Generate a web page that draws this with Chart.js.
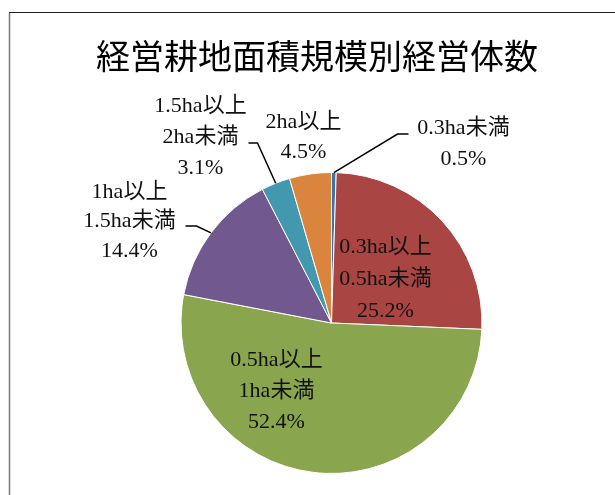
<!DOCTYPE html>
<html>
<head>
<meta charset="utf-8">
<script src="https://cdn.jsdelivr.net/npm/chart.js@4/dist/chart.umd.min.js"></script>
<style>
  body { margin: 0; background: #fff; }
  canvas { display: block; }
</style>
</head>
<body>
<canvas id="myChart" width="615" height="495"></canvas>
<script>
// data
var title = "経営耕地面積規模別経営体数";
var categories = [
  ["0.3ha未満"],
  ["0.3ha以上", "0.5ha未満"],
  ["0.5ha以上", "1ha未満"],
  ["1ha以上", "1.5ha未満"],
  ["1.5ha以上", "2ha未満"],
  ["2ha以上"],
];
var shares = [0.5, 25.2, 52.4, 14.4, 3.1, 4.5];
var colors = ["#3f72ad", "#a94543", "#89a54e", "#71588f", "#4198af", "#db843d"];

// label placement, offsets from the pie centre (text centre of first line)
var labelPos = [
  { x: 132, y: -195, gap: 31, elbow: [66, -189], end: [77, -189] },
  { x: 54, y: -76, gap: 32 },
  { x: -55, y: 37, gap: 31 },
  { x: -202, y: -131, gap: 29.5, elbow: [-135, -97], end: [-146, -97] },
  { x: -131, y: -217, gap: 31, elbow: [-74, -180], end: [-83, -180] },
  { x: -28, y: -201, gap: 30 },
];

var labelFont = '22px "Liberation Serif", "Noto Sans CJK JP", serif';

var pieLabels = {
  id: "pieLabels",
  beforeDraw: function (chart) {
    var c = chart.ctx;
    c.save();
    c.fillStyle = "#fff";
    c.fillRect(0, 0, chart.width, chart.height);
    // outer frame
    c.strokeStyle = "#777";
    c.lineWidth = 1.5;
    c.beginPath();
    c.moveTo(9.5, chart.height);
    c.lineTo(9.5, 12.5);
    c.stroke();
    c.strokeStyle = "#222";
    c.lineWidth = 1;
    c.beginPath();
    c.moveTo(9, 12.5);
    c.lineTo(chart.width, 12.5);
    c.stroke();
    // title
    c.fillStyle = "#000";
    c.font = '34px "Noto Sans CJK JP", sans-serif';
    c.textAlign = "center";
    c.textBaseline = "middle";
    c.fillText(title, 317, 56);
    c.restore();
  },
  afterDraw: function (chart) {
    var c = chart.ctx;
    var arcs = chart.getDatasetMeta(0).data;
    c.save();
    c.font = labelFont;
    c.textAlign = "center";
    c.textBaseline = "middle";
    c.fillStyle = "#111";
    c.strokeStyle = "#000";
    c.lineWidth = 1.5;
    arcs.forEach(function (arc, i) {
      var p = labelPos[i];
      var cx = arc.x, cy = arc.y;
      if (p.elbow) {
        var mid = (arc.startAngle + arc.endAngle) / 2;
        var sx = cx + Math.cos(mid) * arc.outerRadius;
        var sy = cy + Math.sin(mid) * arc.outerRadius;
        c.beginPath();
        c.moveTo(sx, sy);
        c.lineTo(cx + p.elbow[0], cy + p.elbow[1]);
        c.lineTo(cx + p.end[0], cy + p.end[1]);
        c.stroke();
      }
      var lines = categories[i].concat([shares[i].toFixed(1) + "%"]);
      lines.forEach(function (t, k) {
        c.fillText(t, cx + p.x, cy + p.y + k * p.gap);
      });
    });
    c.restore();
  },
};

var ctx = document.getElementById("myChart").getContext("2d");

var myChart = new Chart(ctx, {
  type: "pie",
  data: {
    labels: categories.map(function (l) { return l.join(""); }),
    datasets: [
      {
        data: shares,
        backgroundColor: colors,
        borderColor: "#fff",
        borderWidth: 1,
      },
    ],
  },
  options: {
    responsive: false,
    animation: false,
    layout: {
      padding: { left: 180, right: 132, top: 172, bottom: 21 },
    },
    plugins: {
      legend: { display: false },
      tooltip: { enabled: false },
    },
  },
  plugins: [pieLabels],
});
</script>
</body>
</html>
